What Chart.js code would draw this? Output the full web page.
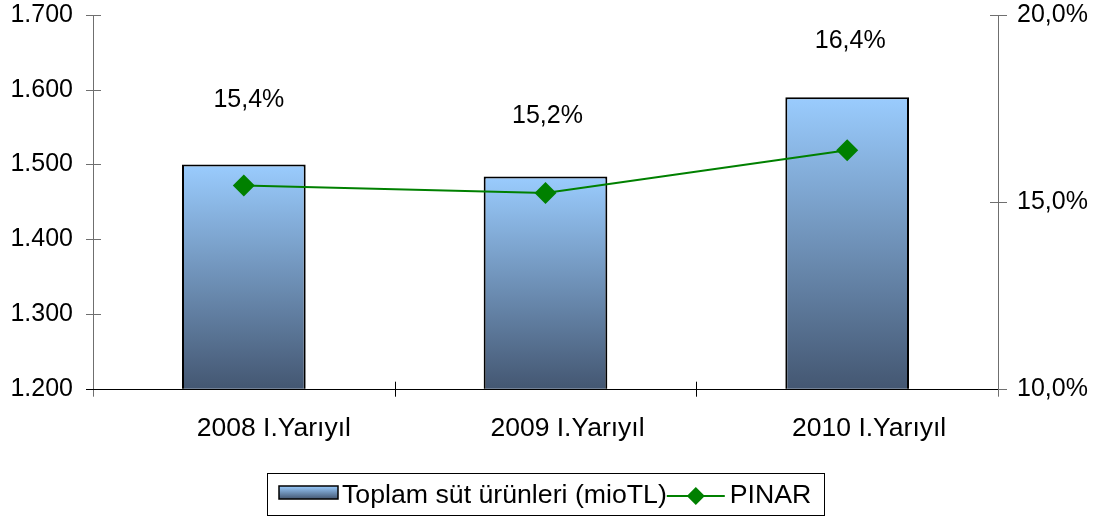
<!DOCTYPE html>
<html>
<head>
<meta charset="utf-8">
<script src="https://cdn.jsdelivr.net/npm/chart.js@4/dist/chart.umd.min.js"></script>
<style>
    html, body { margin: 0; padding: 0; background: #fff; }
    #wrap { width: 1094px; height: 518px; }
</style>
</head>
<body>
<div id="wrap"><canvas id="c"></canvas></div>
<script>
// data
const categories = ['2008 I.Yarıyıl', '2009 I.Yarıyıl', '2010 I.Yarıyıl'];
const totalSales = [1500, 1484, 1590];        // mio TL, left axis
const pinarShare = [15.44, 15.24, 16.38];     // %, right axis
const leftTicks = [1200, 1300, 1400, 1500, 1600, 1700];
const rightTicks = [10, 15, 20];

// hand placed label nudges in the original (px)
const catLabelShift = [30, 22, 22];
const valueLabelShift = [5, 2, 3];
const valueLabelLift = [64, 60, 56];

const FONT = "'Liberation Sans', Arial, sans-serif";

function fmtThousands(v) {
    return String(v).replace(/\B(?=(\d{3})+(?!\d))/g, '.');
}
function fmtPct(v) {
    return v.toFixed(1).replace('.', ',') + '%';
}

function barGradient(ctx, top, bottom) {
    const g = ctx.createLinearGradient(0, top, 0, bottom);
    g.addColorStop(0, '#9accfe');
    g.addColorStop(1, '#445772');
    return g;
}

// axis lines + ticks that cross the axis, like the old office chart
const axesPlugin = {
    id: 'axesPlugin',
    beforeDatasetsDraw(chart) {
        const ctx = chart.ctx;
        const ca = chart.chartArea;
        const x = chart.scales.x;
        const y = chart.scales.y;
        const y1 = chart.scales.y1;
        ctx.save();
        ctx.lineWidth = 1;
        ctx.strokeStyle = '#6f6f6f';
        ctx.beginPath();
        ctx.moveTo(ca.left + 0.5, ca.top);
        ctx.lineTo(ca.left + 0.5, ca.bottom + 8);
        ctx.moveTo(ca.right + 0.5, ca.top);
        ctx.lineTo(ca.right + 0.5, ca.bottom + 8);
        leftTicks.forEach(v => {
            const py = Math.round(y.getPixelForValue(v)) + 0.5;
            ctx.moveTo(ca.left - 7, py);
            ctx.lineTo(ca.left + 8, py);
        });
        rightTicks.forEach(v => {
            const py = Math.round(y1.getPixelForValue(v)) + 0.5;
            ctx.moveTo(ca.right - 8, py);
            ctx.lineTo(ca.right + 9, py);
        });
        ctx.stroke();

        // category axis
        ctx.strokeStyle = '#000';
        ctx.beginPath();
        const by = Math.round(ca.bottom) + 0.5;
        ctx.moveTo(ca.left - 7, by);
        ctx.lineTo(ca.right, by);
        const n = categories.length;
        for (let i = 1; i < n; i++) {
            const bx = Math.round((x.getPixelForTick(i - 1) + x.getPixelForTick(i)) / 2) + 0.5;
            ctx.moveTo(bx, ca.bottom - 7);
            ctx.lineTo(bx, ca.bottom + 8);
        }
        ctx.stroke();

        // category labels
        ctx.font = '26.5px ' + FONT;
        ctx.fillStyle = '#000';
        ctx.textAlign = 'center';
        ctx.textBaseline = 'middle';
        categories.forEach((c, i) => {
            ctx.fillText(c, x.getPixelForTick(i) + catLabelShift[i], ca.bottom + 40);
        });
        ctx.restore();
    }
};

// percent labels above bars + boxed legend at the bottom
const labelsPlugin = {
    id: 'labelsPlugin',
    afterDatasetsDraw(chart) {
        const ctx = chart.ctx;
        const bars = chart.getDatasetMeta(0).data;
        ctx.save();
        ctx.font = '25px ' + FONT;
        ctx.fillStyle = '#000';
        ctx.textAlign = 'center';
        ctx.textBaseline = 'middle';
        bars.forEach((bar, i) => {
            ctx.fillText(fmtPct(pinarShare[i]), bar.x + valueLabelShift[i], bar.y - valueLabelLift[i]);
        });
        ctx.restore();
    },
    afterDraw(chart) {
        const ctx = chart.ctx;
        const ds = chart.data.datasets;
        ctx.save();
        ctx.font = '26.7px ' + FONT;
        ctx.textBaseline = 'middle';
        ctx.textAlign = 'left';

        const boxL = 267, boxT = 473.5, boxR = 824;
        ctx.strokeStyle = '#000';
        ctx.lineWidth = 1;
        ctx.strokeRect(boxL + 0.5, boxT, boxR - boxL, 42);

        const cy = 496;
        // bar swatch
        ctx.fillStyle = barGradient(ctx, 486, 499);
        ctx.fillRect(279, 486, 59, 13);
        ctx.lineWidth = 1.5;
        ctx.strokeRect(279, 486, 59, 13);
        ctx.fillStyle = '#000';
        ctx.fillText(ds[0].label, 342, cy);
        const w0 = ctx.measureText(ds[0].label).width;

        // line swatch
        const lx = 342 + w0;
        ctx.strokeStyle = '#008000';
        ctx.lineWidth = 2;
        ctx.beginPath();
        ctx.moveTo(lx, cy);
        ctx.lineTo(lx + 58, cy);
        ctx.stroke();
        ctx.fillStyle = '#008000';
        ctx.beginPath();
        ctx.moveTo(lx + 29, cy - 9);
        ctx.lineTo(lx + 38, cy);
        ctx.lineTo(lx + 29, cy + 9);
        ctx.lineTo(lx + 20, cy);
        ctx.closePath();
        ctx.fill();
        ctx.fillStyle = '#000';
        ctx.fillText(ds[1].label, lx + 63, cy);
        ctx.restore();
    }
};

const config = {
    type: 'bar',
    data: {
        labels: categories,
        datasets: [{
            type: 'bar',
            label: 'Toplam süt ürünleri (mioTL)',
            data: totalSales,
            yAxisID: 'y',
            order: 2,
            categoryPercentage: 1,
            barPercentage: 0.41,
            borderColor: '#000',
            borderWidth: 2,
            borderSkipped: false,
            backgroundColor: function (c) {
                const chart = c.chart;
                if (!chart.chartArea || c.type !== 'data') return '#9accfe';
                const y = chart.scales.y;
                return barGradient(chart.ctx, y.getPixelForValue(totalSales[c.dataIndex]), y.getPixelForValue(y.min));
            }
        }, {
            type: 'line',
            label: 'PINAR',
            data: pinarShare,
            yAxisID: 'y1',
            order: 1,
            borderColor: '#008000',
            backgroundColor: '#008000',
            borderWidth: 2,
            tension: 0,
            pointStyle: 'rectRot',
            pointRadius: 11,
            pointBorderWidth: 0,
            pointBackgroundColor: '#008000'
        }]
    },
    options: {
        responsive: true,
        maintainAspectRatio: false,
        animation: false,
        layout: { padding: { top: 15, left: 0, right: 0, bottom: 0 } },
        plugins: {
            legend: { display: false },
            tooltip: { enabled: false }
        },
        scales: {
            x: {
                grid: { display: false, drawTicks: false },
                border: { display: false },
                ticks: { display: false },
                afterFit: s => { s.height = 129.3; s.paddingLeft = 0; s.paddingRight = 0; }
            },
            y: {
                position: 'left',
                min: 1200,
                max: 1700,
                grid: { display: false, drawTicks: false },
                border: { display: false },
                afterBuildTicks: s => { s.ticks = leftTicks.map(v => ({ value: v })); },
                ticks: {
                    color: '#000',
                    font: { family: FONT, size: 25 },
                    padding: 20,
                    callback: v => fmtThousands(v)
                },
                afterFit: s => { s.width = 93; s.paddingTop = 0; s.paddingBottom = 0; }
            },
            y1: {
                position: 'right',
                min: 10,
                max: 20,
                grid: { display: false, drawTicks: false },
                border: { display: false },
                afterBuildTicks: s => { s.ticks = rightTicks.map(v => ({ value: v })); },
                ticks: {
                    color: '#000',
                    font: { family: FONT, size: 25 },
                    padding: 19,
                    callback: v => fmtPct(v)
                },
                afterFit: s => { s.width = 96; s.paddingTop = 0; s.paddingBottom = 0; }
            }
        }
    },
    plugins: [axesPlugin, labelsPlugin]
};

new Chart(document.getElementById('c'), config);
</script>
</body>
</html>
